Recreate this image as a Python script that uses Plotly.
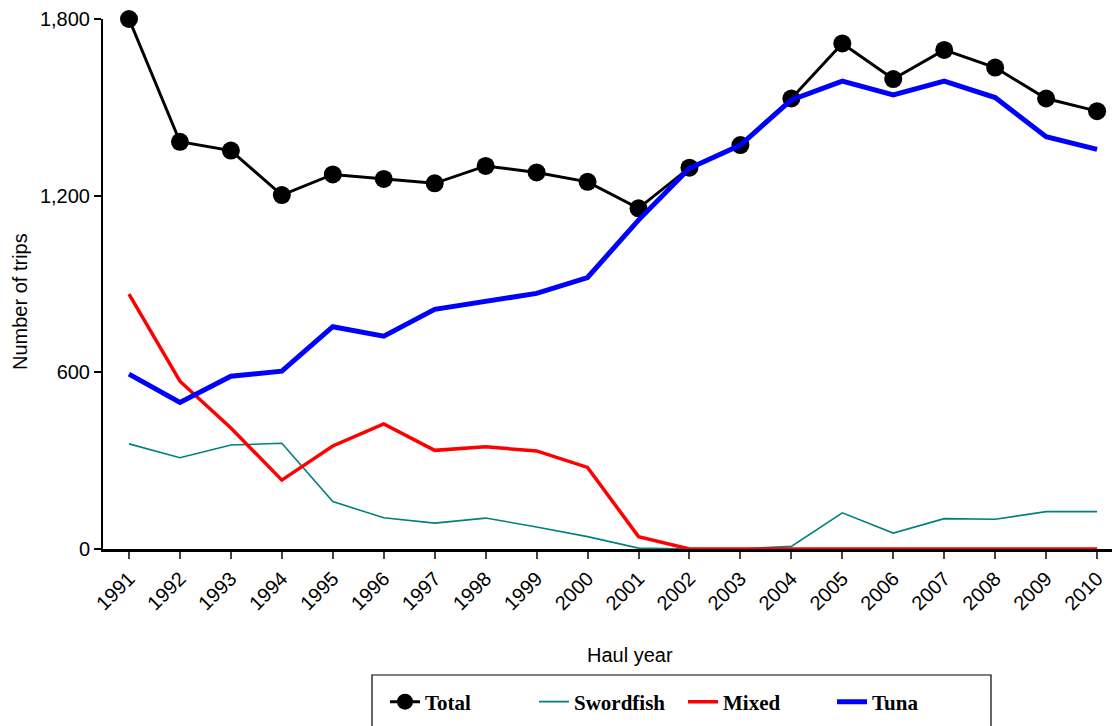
import plotly.graph_objects as go

years = list(range(1991, 2011))
total = [1800, 1383, 1353, 1202, 1272, 1257, 1242, 1301, 1279, 1247,
         1157, 1295, 1372, 1530, 1717, 1596, 1695, 1635, 1530, 1487]
swordfish = [357, 310, 353, 359, 161, 106, 88, 105, 75, 42,
             3, 0, 0, 9, 123, 54, 103, 101, 127, 127]
mixed = [866, 570, 411, 234, 350, 425, 335, 347, 333, 277,
         42, 0, 0, 0, 0, 0, 0, 0, 0, 0]
tuna = [594, 498, 587, 604, 755, 723, 814, 840, 868, 922,
        1117, 1293, 1372, 1525, 1589, 1542, 1589, 1533, 1400, 1357]
y_ticks = [0, 600, 1200, 1800]

sans = "Liberation Sans, Arial, sans-serif"
serif = "Liberation Serif, Times New Roman, serif"

fig = go.Figure()
fig.add_trace(go.Scatter(x=years, y=total, name="Total", mode="lines+markers",
                         line=dict(color="black", width=3),
                         marker=dict(color="black", size=18, symbol="circle"),
                         cliponaxis=False))
fig.add_trace(go.Scatter(x=years, y=swordfish, name="Swordfish", mode="lines",
                         line=dict(color="#008080", width=1.6), cliponaxis=False))
fig.add_trace(go.Scatter(x=years, y=mixed, name="Mixed", mode="lines",
                         line=dict(color="#ff0000", width=3.5), cliponaxis=False))
fig.add_trace(go.Scatter(x=years, y=tuna, name="Tuna", mode="lines",
                         line=dict(color="#0000ff", width=5), cliponaxis=False))

OFF = 8  # page body margin
FW, FH = 1120 - OFF, 726 - OFF
# plot area in page pixels
PL, PT, W, H = 103, 19, 1017, 530
L, T = PL - OFF, PT - OFF


def px_x(px):
    return (px - PL) / W


def px_y(py):
    return (PT + H - py) / H


fig.update_layout(
    width=FW, height=FH,
    margin=dict(l=L, r=FW - L - W, t=T, b=FH - T - H, autoexpand=False),
    paper_bgcolor="white", plot_bgcolor="white",
    showlegend=True,
    font=dict(family=sans, size=20, color="black"),
    xaxis=dict(range=[1990.49, 2010.45], tickvals=years, ticktext=[str(y) for y in years],
               tickangle=-45, ticks="outside", ticklen=7, tickwidth=1.5, tickcolor="#444",
               showline=True, linecolor="black", linewidth=3, showgrid=False,
               zeroline=False, tickfont=dict(family=sans, size=20), automargin=False),
    yaxis=dict(range=[0, 1800], tickvals=y_ticks, tickformat=",", ticks="outside",
               ticklen=7, tickwidth=1.5, tickcolor="black",
               showline=True, linecolor="black", linewidth=2, showgrid=False,
               zeroline=False, tickfont=dict(family=sans, size=20), automargin=False),
    legend=dict(orientation="h", x=px_x(385), xanchor="left", y=px_y(702), yanchor="middle",
                bgcolor="rgba(0,0,0,0)", borderwidth=0, entrywidth=104,
                entrywidthmode="pixels",
                font=dict(family=serif, size=21, color="black", weight="bold")),
    shapes=[dict(type="rect", xref="paper", yref="paper",
                 x0=px_x(372), x1=px_x(991), y0=px_y(675), y1=px_y(745),
                 line=dict(color="black", width=1.2), fillcolor="rgba(0,0,0,0)")],
    annotations=[
        dict(text="Number of trips", xref="paper", yref="paper", x=px_x(20), y=px_y(302),
             xanchor="center", yanchor="middle", textangle=-90, showarrow=False,
             font=dict(family=sans, size=20)),
        dict(text="Haul year", xref="paper", yref="paper", x=px_x(630), y=px_y(655),
             xanchor="center", yanchor="middle", showarrow=False,
             font=dict(family=sans, size=20)),
    ],
)

fig.write_html("out.html")
